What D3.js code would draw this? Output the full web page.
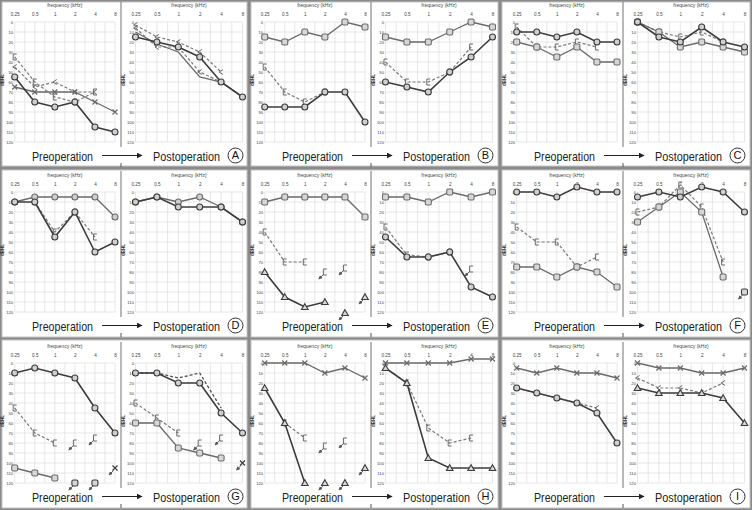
<!DOCTYPE html>
<html><head><meta charset="utf-8">
<script src="https://cdn.jsdelivr.net/npm/d3@7"></script>
<style>body{margin:0;background:#8a8a8a}svg{display:block}</style>
</head><body><svg id="c" width="752" height="510"></svg>
<script>
// ---------- axes / labels ----------
const freqs=[0.25,0.5,1,2,4,8];
const freqLabels=["0.25","0.5","1","2","4","8"];
const dbTicks=[0,10,20,30,40,50,60,70,80,90,100,110,120];
const panelLetters=["A","B","C","D","E","F","G","H","I"];
const preLabel="Preoperation", postLabel="Postoperation";

// ---------- series values (dB HL at freqs, null = not plotted) ----------
const A_pre_ac1=[55,80,85,80,105,110];
const A_pre_ac2=[65,70,70,70,80,90];
const A_pre_bc1=[35,60,75,80,70,null];
const A_pre_bc2=[45,65,60,70,70,null];
const A_post_ac1=[15,20,25,35,60,75];
const A_post_ac2=[10,22,30,55,60,75];
const A_post_bc1=[3,15,20,30,50,null];
const A_post_bc2=[6,25,25,50,60,null];

const B_pre_ac1=[15,20,10,15,0,5];
const B_pre_ac2=[85,85,85,70,70,100];
const B_pre_bc=[45,70,80,70,null,null];
const B_post_ac1=[15,20,20,10,0,5];
const B_post_ac2=[60,65,70,50,35,15];
const B_post_bc=[40,60,60,50,25,null];

const C_pre_ac1=[10,10,15,10,20,20];
const C_pre_ac2=[20,25,35,25,40,40];
const C_pre_bc=[5,25,25,20,25,null];
const C_post_ac1=[0,15,20,5,20,25];
const C_post_ac2=[0,10,25,20,25,30];
const C_post_bc=[0,10,15,10,20,null];

const D_pre_ac1=[10,5,5,5,5,25];
const D_pre_ac2=[10,10,45,20,60,50];
const D_pre_bc=[null,10,40,20,45,null];
const D_post_ac1=[10,5,10,5,15,30];
const D_post_ac2=[10,5,15,15,15,30];

const E_pre_ac1=[10,5,5,5,5,25];
const E_pre_ac2=[80,105,115,110,null,null];
const E_pre_bc=[40,70,70,null,null,null];
const E_pre_nrAc=[[4,121],[8,105]];
const E_pre_nrBc=[[2,80],[4,76]];
const E_post_ac1=[5,5,10,0,5,0];
const E_post_ac2=[45,65,65,60,95,105];
const E_post_bc=[35,63,65,60,null,null];
const E_post_nrBc=[[4,77]];

const F_pre_ac1=[0,0,5,-5,0,0];
const F_pre_ac2=[75,75,85,75,80,95];
const F_pre_bc=[35,50,50,75,65,null];
const F_post_ac1=[5,0,5,-5,0,20];
const F_post_ac2=[30,15,0,20,85,null];
const F_post_bc=[20,15,-7,15,70,null];
const F_post_nrAc=[[8,100]];

const G_pre_ac1=[10,5,10,15,45,70];
const G_pre_ac2=[105,110,115,null,null,null];
const G_pre_bc=[45,70,80,null,null,null];
const G_pre_nrAc=[[2,120],[4,120]];
const G_pre_nrX=[[8,105]];
const G_pre_nrBc=[[2,80],[4,75]];
const G_post_ac1=[10,10,20,20,50,70];
const G_post_bc1=[10,10,15,10,45,null];
const G_post_ac2=[60,60,85,90,95,null];
const G_post_bc2=[40,55,70,null,null,null];
const G_post_nrX=[[8,100]];
const G_post_nrBc=[[2,80],[4,75]];

const H_pre_ac1=[0,0,0,10,5,15];
const H_pre_ac2=[25,60,120,null,null,null];
const H_pre_bc=[null,60,75,null,null,null];
const H_pre_nrBc=[[2,83],[4,78]];
const H_pre_nrAc=[[2,120],[4,120],[8,105]];
const H_post_ac1=[0,0,0,0,-4,-4];
const H_post_ac2=[5,20,95,105,105,105];
const H_post_bc=[null,20,65,80,75,null];

const I_pre_ac1=[5,10,5,10,10,15];
const I_pre_ac2=[25,30,35,40,50,80];
const I_pre_bc=[25,30,35,40,45,null];
const I_post_ac1=[0,5,5,10,10,5];
const I_post_ac2=[25,30,30,30,35,60];
const I_post_bc=[15,25,25,30,20,null];

// ---------- plot table (references the arrays above, plus style keys) ----------
const S=(v,st,m)=>({v,st,m});
const N=(p,m)=>({p,m});
const panels=[
 {pre:[S(A_pre_bc1,"dash","bc"),S(A_pre_bc2,"dash","bc2"),S(A_pre_ac2,"light","x"),S(A_pre_ac1,"dark","circle")],
  post:[S(A_post_bc1,"dash","bc2"),S(A_post_bc2,"dash","bc2"),S(A_post_ac2,"light","none"),S(A_post_ac1,"dark","circle")]},
 {pre:[S(B_pre_bc,"dash","bc"),S(B_pre_ac1,"light","square"),S(B_pre_ac2,"dark","circle")],
  post:[S(B_post_bc,"dash","bc"),S(B_post_ac1,"light","square"),S(B_post_ac2,"dark","circle")]},
 {pre:[S(C_pre_bc,"dash","bc"),S(C_pre_ac2,"light","square"),S(C_pre_ac1,"dark","circle")],
  post:[S(C_post_bc,"dash","bc"),S(C_post_ac2,"light","square"),S(C_post_ac1,"dark","circle")]},
 {pre:[S(D_pre_bc,"dash","bc"),S(D_pre_ac1,"light","circle"),S(D_pre_ac2,"dark","circle")],
  post:[S(D_post_ac1,"light","circle"),S(D_post_ac2,"dark","circle")]},
 {pre:[S(E_pre_bc,"dash","bc"),S(E_pre_ac1,"light","square"),S(E_pre_ac2,"dark","tri")],
  preNR:[N(E_pre_nrAc,"tri"),N(E_pre_nrBc,"bc")],
  post:[S(E_post_bc,"dash","bc"),S(E_post_ac1,"light","square"),S(E_post_ac2,"dark","circle")],
  postNR:[N(E_post_nrBc,"bc")]},
 {pre:[S(F_pre_bc,"dash","bc"),S(F_pre_ac2,"light","square"),S(F_pre_ac1,"dark","circle")],
  post:[S(F_post_bc,"dash","bc"),S(F_post_ac2,"light","square"),S(F_post_ac1,"dark","circle")],
  postNR:[N(F_post_nrAc,"square")]},
 {pre:[S(G_pre_bc,"dash","bc"),S(G_pre_ac2,"light","square"),S(G_pre_ac1,"dark","circle")],
  preNR:[N(G_pre_nrAc,"square"),N(G_pre_nrX,"x"),N(G_pre_nrBc,"bc")],
  post:[S(G_post_bc2,"dash","bc"),S(G_post_bc1,"dashDark","none"),S(G_post_ac2,"light","square"),S(G_post_ac1,"dark","circle")],
  postNR:[N(G_post_nrX,"x"),N(G_post_nrBc,"bc")]},
 {pre:[S(H_pre_bc,"dash","bc"),S(H_pre_ac1,"light","x"),S(H_pre_ac2,"dark","tri")],
  preNR:[N(H_pre_nrBc,"bc"),N(H_pre_nrAc,"tri")],
  post:[S(H_post_bc,"dash","bc"),S(H_post_ac1,"light","x"),S(H_post_ac2,"dark","tri")]},
 {pre:[S(I_pre_bc,"dash","bc2"),S(I_pre_ac1,"light","x"),S(I_pre_ac2,"dark","circle")],
  post:[S(I_post_bc,"dash","bc2"),S(I_post_ac1,"light","x"),S(I_post_ac2,"dark","tri")]}
];

const styles={
 dark:{stroke:"#3c3c3c",w:1.6,dash:null},
 light:{stroke:"#6a6a6a",w:1.3,dash:null},
 dash:{stroke:"#7a7a7a",w:1.2,dash:"3,2"},
 dashDark:{stroke:"#505050",w:1.3,dash:"3,2"}
};

const colX=[0,250,502], rowY=[0,170,341];
const panelRects=[[2,247],[251,498],[502,750]];
const rowRects=[[2,166],[170,337],[340,508]];
const ff="Liberation Sans, Arial, sans-serif";

const svg=d3.select("#c");
const defs=svg.append("defs");
defs.append("marker").attr("id","ah").attr("viewBox","0 0 6 6")
  .attr("refX",5).attr("refY",3).attr("markerWidth",4).attr("markerHeight",4).attr("orient","auto")
  .append("path").attr("d","M0,0L6,3L0,6Z").attr("fill","#555");
defs.append("marker").attr("id","ah2").attr("viewBox","0 0 10 10")
  .attr("refX",9).attr("refY",5).attr("markerWidth",6).attr("markerHeight",6).attr("orient","auto")
  .append("path").attr("d","M0,0L10,5L0,10Z").attr("fill","#222");

svg.append("rect").attr("width",752).attr("height",510).attr("fill","#8a8a8a");

const gridFreqs=d3.range(0,11).map(k=>0.25*Math.pow(2,k/2));

function drawMarker(g,type,x,y,col){
  if(type==="none") return;
  if(type==="circle"){
    g.append("circle").attr("cx",x).attr("cy",y).attr("r",3).attr("fill","#cfcfcf").attr("stroke",col).attr("stroke-width",1.1);
  } else if(type==="square"){
    g.append("rect").attr("x",x-3).attr("y",y-3).attr("width",6).attr("height",6).attr("rx",1.5)
     .attr("fill","#d6d6d6").attr("stroke",col).attr("stroke-width",1.1);
  } else if(type==="tri"){
    g.append("path").attr("d",`M${x},${y-3.3}L${x+3.3},${y+2.5}L${x-3.3},${y+2.5}Z`)
     .attr("fill","#d6d6d6").attr("stroke",col).attr("stroke-width",1.1);
  } else if(type==="x"){
    g.append("path").attr("d",`M${x-2.5},${y-2.5}L${x+2.5},${y+2.5}M${x+2.5},${y-2.5}L${x-2.5},${y+2.5}`)
     .attr("stroke",col).attr("stroke-width",1.2);
  } else if(type==="bc"){
    g.append("path").attr("d",`M${x+2},${y-3}L${x-1.5},${y-3}L${x-1.5},${y+3}L${x+2},${y+3}`)
     .attr("fill","none").attr("stroke","#6a6a6a").attr("stroke-width",1);
  } else if(type==="bc2"){
    g.append("path").attr("d",`M${x+2},${y-2.5}L${x-2},${y}L${x+2},${y+2.5}`)
     .attr("fill","none").attr("stroke","#6a6a6a").attr("stroke-width",1);
  }
}

function drawPlot(g,x0,x1,series,nr){
  const x=d3.scaleLog().base(2).domain([0.25,8]).range([x0,x1]);
  const y=d3.scaleLinear().domain([0,120]).range([22,142]);
  const grid=g.append("g");
  grid.selectAll("line.v").data(gridFreqs).join("line").attr("class","v")
    .attr("x1",d=>x(d)).attr("x2",d=>x(d)).attr("y1",y(0)).attr("y2",y(120))
    .attr("stroke","#dcdcdc").attr("stroke-width",0.7);
  grid.selectAll("line.h").data(dbTicks).join("line").attr("class","h")
    .attr("x1",x0).attr("x2",x1).attr("y1",d=>y(d)).attr("y2",d=>y(d))
    .attr("stroke","#dcdcdc").attr("stroke-width",0.7);
  const ax=g.append("g").attr("transform",`translate(0,${y(0)-5})`)
    .call(d3.axisTop(x).tickValues(freqs).tickFormat((d,i)=>freqLabels[i]).tickSize(0).tickPadding(1));
  ax.select(".domain").remove();
  ax.selectAll("text").attr("font-size",4.6).attr("fill","#444").attr("font-family",ff);
  const ay=g.append("g").attr("transform",`translate(${x0-1.5},0)`)
    .call(d3.axisLeft(y).tickValues(dbTicks).tickSize(0).tickPadding(0));
  ay.select(".domain").remove();
  ay.selectAll("text").attr("font-size",4.2).attr("fill","#444").attr("font-family",ff);
  g.append("text").attr("x",(x0+x1)/2).attr("y",7).attr("text-anchor","middle")
   .attr("font-size",5).attr("fill","#444").attr("font-family",ff).text("frequency (kHz)");
  g.append("text").attr("transform",`translate(${x0-10.5},80) rotate(-90)`).attr("text-anchor","middle")
   .attr("font-size",4.5).attr("font-weight","bold").attr("fill","#333").attr("font-family",ff).text("dBHL");

  const line=d3.line().defined(d=>d[1]!=null).x(d=>x(d[0])).y(d=>y(d[1]));
  series.forEach(s=>{
    const st=styles[s.st];
    const pts=freqs.map((f,i)=>[f,s.v[i]]);
    g.append("path").attr("d",line(pts)).attr("fill","none").attr("stroke",st.stroke)
     .attr("stroke-width",st.w).attr("stroke-dasharray",st.dash);
    pts.filter(p=>p[1]!=null).forEach(p=>drawMarker(g,s.m,x(p[0]),y(p[1]),st.stroke));
  });
  (nr||[]).forEach(n=>{
    n.p.forEach(p=>{
      const px=x(p[0]), py=y(p[1]);
      const col=n.m==="bc"?"#6a6a6a":"#3c3c3c";
      drawMarker(g,n.m,px,py,col);
      g.append("line").attr("x1",px-1.5).attr("y1",py+2.5).attr("x2",px-6).attr("y2",py+7)
       .attr("stroke","#555").attr("stroke-width",1).attr("marker-end","url(#ah)");
    });
  });
}

panels.forEach((pn,i)=>{
  const c=i%3, r=Math.floor(i/3);
  svg.append("rect").attr("x",panelRects[c][0]).attr("y",rowRects[r][0])
    .attr("width",panelRects[c][1]-panelRects[c][0]).attr("height",rowRects[r][1]-rowRects[r][0])
    .attr("fill","#fff").attr("stroke","#c4c4c4").attr("stroke-width",1);
  const g=svg.append("g").attr("transform",`translate(${colX[c]},${rowY[r]})`);
  g.append("line").attr("x1",121).attr("x2",121).attr("y1",1).attr("y2",147).attr("stroke","#9a9a9a").attr("stroke-width",1.4);
  g.append("line").attr("x1",121).attr("x2",121).attr("y1",163).attr("y2",167).attr("stroke","#555").attr("stroke-width",1);
  drawPlot(g.append("g"),14.7,115,pn.pre,pn.preNR);
  drawPlot(g.append("g"),135.5,242.5,pn.post,pn.postNR);
  g.append("text").attr("transform","translate(32,160.5) scale(0.82,1)").attr("font-size",13).attr("font-family",ff).attr("fill","#222")
    .text(preLabel);
  g.append("line").attr("x1",102).attr("x2",142).attr("y1",155.5).attr("y2",155.5).attr("stroke","#222").attr("stroke-width",1)
    .attr("marker-end","url(#ah2)");
  g.append("text").attr("transform","translate(153,160.5) scale(0.835,1)").attr("font-size",13).attr("font-family",ff).attr("fill","#222")
    .text(postLabel);
  g.append("circle").attr("cx",235.5).attr("cy",155.5).attr("r",7.5).attr("fill","#fff").attr("stroke","#333").attr("stroke-width",1);
  g.append("text").attr("x",235.5).attr("y",155.5).attr("dy","0.36em").attr("text-anchor","middle")
    .attr("font-size",11).attr("font-family",ff).attr("fill","#111").text(panelLetters[i]);
});
</script></body></html>
